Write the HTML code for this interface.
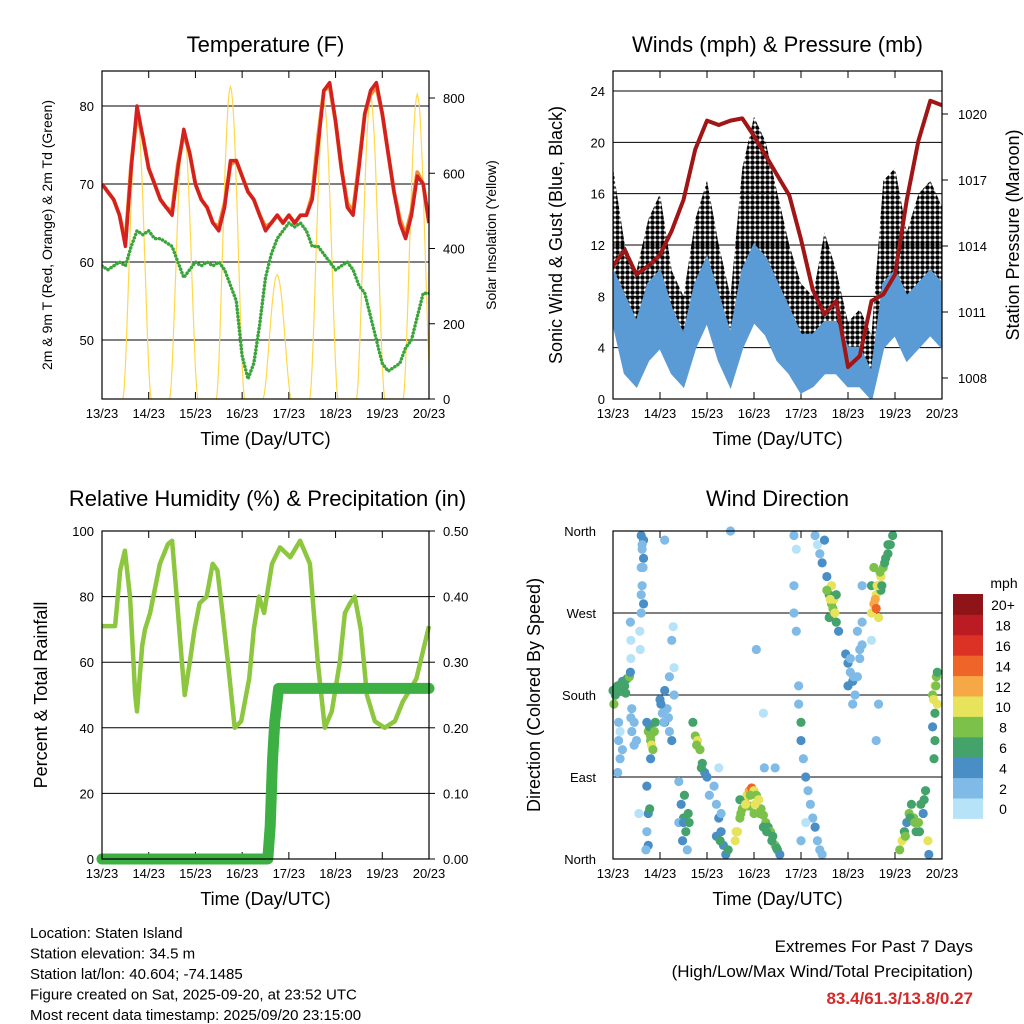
<!DOCTYPE html>
<html><head><meta charset="utf-8"><style>
body{margin:0;background:#fff;}
svg{display:block;font-family:"Liberation Sans",sans-serif;}
</style></head><body>
<svg id="c" width="1024" height="1024" viewBox="0 0 1024 1024">
<defs>
<pattern id="dotpat" width="5" height="5" patternUnits="userSpaceOnUse"><circle cx="2.5" cy="2.5" r="2.3" fill="#000"/></pattern>
</defs>
</svg>
<script>
// ---------- DATA ----------
const xTickLabels=["13/23","14/23","15/23","16/23","17/23","18/23","19/23","20/23"];
// Temperature, 3-hourly (day offset = i/8)
const temp2m=[70,69,68,66,62,72,80,76,72,70,68,67,66,72,77,74,70,68,67,65,64,67,73,73,71,69,68,66,64,65,66,65,66,65,66,66,68,75,82,83,78,72,67,66,72,79,82,83,79,74,69,65,63,66,71,70,65];
const temp9m=[70,69,68,66,62.5,72.5,79,76,72,70,68,67,66.5,72.5,76.5,74,70,68,67,65,64.5,67.5,72.5,73,71,69,68,66,64.5,65,66,65,66,65,66,66,68.5,76,82,82.5,78,72,67.5,66.5,72.5,79,81.5,82.5,79,74,69,65.5,63.5,66.5,71.5,70,65];
const dewPt=[59.5,59,59.5,60,59.5,62,64,63.5,64,63,63,62.5,62,60,58,59,60,59.5,60,59.5,60,59,57,55,48,45,47,52,58,61,63,64,65,64.5,65,64,62,62,61,60,59,59.5,60,59,57,56,53,50,47,46,46.5,47,49,50,53,56,56];
const solarPeak=[760,720,830,330,790,800,810];
const tempTicks=[50,60,70,80];
const solarTicks=[0,200,400,600,800];
// Winds, 6-hourly (day offset = i/4)
const windLo=[6,2,1,3,4,2,1,4,6,3,1,4,6,5,3,2,0.5,1,2,2,1,1,0,4,5,3,4,5,4];
const windHi=[10,8,6,9,10,7,5,9,11,8,5,10,12,11,9,7,5,5,6,6,4,4,2,9,10,8,9,10,9];
const gustHi=[18,12,10,14,16,10,8,14,17,12,8,18,22,20,16,12,9,8,13,10,6,7,5,17,18,13,16,17,15];
const pressure=[1013.1,1013.8,1012.7,1013.1,1013.6,1014.7,1016.1,1018.4,1019.7,1019.5,1019.7,1019.8,1019,1018.1,1017.2,1016.3,1014.3,1012,1010.9,1011.5,1008.5,1009,1011.5,1011.8,1012.7,1016.1,1018.8,1020.6,1020.4];
const windTicks=[0,4,8,12,16,20,24];
const presTicks=[1008,1011,1014,1017,1020];
// Relative humidity
const rhDay=[0,0.28,0.39,0.49,0.60,0.71,0.75,0.86,0.92,1.03,1.24,1.41,1.50,1.60,1.71,1.77,1.88,1.98,2.09,2.24,2.37,2.47,2.58,2.71,2.84,2.98,3.15,3.25,3.36,3.47,3.64,3.81,4.03,4.24,4.45,4.62,4.77,4.92,5.09,5.20,5.31,5.41,5.54,5.67,5.84,6.05,6.27,6.44,6.61,6.73,7.0];
const rhVal=[71,71,88,94,80,50,45,65,70,75,90,96,97,80,60,50,60,70,78,80,90,88,75,58,40,42,55,70,80,75,90,95,92,97,90,60,40,45,60,75,78,80,70,50,42,40,42,48,52,55,71];
const precipDay=[0,3.55,3.6,3.65,3.7,3.78,7.0];
const precipVal=[0,0,0.05,0.15,0.21,0.26,0.26];
const rhTicks=[0,20,40,60,80,100];
const precipTicks=["0.00","0.10","0.20","0.30","0.40","0.50"];
// Wind direction
const dirDay=[0,0.05,0.1,0.15,0.2,0.25,0.3,0.35,0.02,0.12,0.12,0.15,0.1,0.15,0.2,0.4,0.45,0.4,0.5,0.45,0.38,0.6,0.65,0.62,0.65,0.6,0.62,0.6,0.65,0.6,0.57,0.58,0.37,0.38,0.38,0.37,0.75,0.8,0.82,0.78,0.85,0.9,0.72,1.0,1.05,1.1,1.15,1.2,1.25,1.3,1.2,1.1,1.3,1.25,1.28,0.72,0.75,0.72,0.75,0.78,0.7,1.4,1.45,1.5,1.55,1.6,1.48,1.52,1.58,1.4,1.7,1.75,1.8,1.85,1.9,1.95,2.0,2.15,2.2,2.25,2.3,2.35,2.4,2.45,2.3,2.6,2.65,2.7,2.75,2.8,2.85,2.9,2.95,3.0,3.05,3.1,3.15,3.2,3.25,3.3,3.35,3.4,3.45,3.5,3.55,2.7,2.9,3.0,3.2,3.85,3.9,3.85,3.85,3.9,3.95,3.95,4.0,4.0,4.05,4.1,4.15,4.2,4.25,4.3,4.35,4.4,4.45,4.1,4.0,4.3,4.35,4.4,4.45,4.5,4.55,4.6,4.65,4.7,4.75,4.8,4.65,4.7,4.6,4.75,4.95,5.0,5.05,5.1,5.15,5.2,5.25,5.3,5.0,5.1,5.2,5.3,5.5,5.55,5.6,5.65,5.7,5.75,5.8,5.85,5.9,5.95,5.6,5.65,5.7,5.5,5.55,5.85,6.1,6.15,6.2,6.25,6.3,6.35,6.4,6.45,6.5,6.55,6.6,6.65,6.7,6.72,6.8,6.85,6.88,6.9,6.85,6.8,6.85,6.83,6.9,0.55,0.8,1.1,2.5,2.25,3.45,3.05,3.2,3.22,5.5,5.6,5.65,5.3,
 0.07,0.17,0.27,0.62,0.64,0.8,0.88,1.02,1.08,1.18,1.5,1.62,1.78,1.88,2.05,2.2,2.28,2.62,2.72,2.82,2.92,3.02,3.12,3.27,3.38,3.48,4.55,4.62,4.68,4.72,5.05,5.12,5.25,5.58,5.62,5.68,5.72,5.78,6.22,6.32,6.42,6.52,6.62,6.82,6.87];
const dirDeg=[185,180,190,185,195,190,198,200,170,150,130,110,95,140,120,165,150,140,130,125,155,355,350,340,330,320,300,290,280,270,250,230,260,240,220,205,140,130,125,145,120,150,150,175,160,150,165,140,130,180,200,185,210,240,255,80,50,30,15,55,10,85,60,45,30,50,20,70,10,40,150,135,130,120,105,95,90,80,60,45,30,15,5,10,50,20,30,45,55,65,70,75,78,75,70,65,55,48,40,35,30,25,15,10,5,65,58,50,35,355,340,300,270,250,190,170,150,130,110,90,75,60,45,35,20,10,5,40,20,355,345,335,325,350,310,290,280,270,260,250,300,285,265,290,225,215,205,195,180,200,220,235,190,170,250,260,270,280,290,300,310,320,330,335,345,355,275,265,295,300,320,345,10,20,30,40,50,60,45,30,40,60,50,75,20,5,180,190,200,170,160,145,130,110,205,50,110,350,360,100,100,230,160,100,240,130,170,300,
 188,192,182,345,320,135,140,170,150,155,40,40,125,100,70,25,20,30,50,60,70,60,50,30,20,12,295,285,275,270,220,200,230,285,300,315,300,325,25,45,40,30,65,175,190];
const dirSpd=[6,6,6,6,4,6,6,8,8,2,2,2,2,0,2,2,2,2,2,2,2,4,4,2,4,2,2,2,4,2,0,0,2,0,0,4,8,8,10,6,8,6,4,4,2,4,2,2,4,2,2,4,0,2,0,4,4,2,4,6,2,2,4,6,6,6,4,6,2,2,6,8,10,8,6,4,4,2,2,4,4,4,4,6,2,10,10,8,8,12,10,12,14,10,8,10,8,8,8,6,8,6,8,6,4,6,8,8,6,2,0,2,2,2,2,2,6,4,2,4,2,2,2,4,2,2,2,0,2,2,0,2,4,4,4,6,8,8,6,4,10,10,6,6,4,4,2,4,2,2,2,2,4,2,2,2,10,12,10,12,10,8,6,6,6,6,14,10,6,6,8,6,8,10,6,4,8,6,8,6,8,6,4,6,10,4,8,10,8,10,6,4,6,6,6,0,4,2,2,0,2,2,0,2,0,2,2,2,
 6,6,6,2,2,8,8,4,2,2,4,6,8,6,2,4,6,10,8,10,8,10,8,6,6,6,8,10,8,10,2,2,2,12,10,8,6,6,8,6,8,6,6,10,8];
const dirTicks=["North","East","South","West","North"];
const spdColors=["#b6e3f8","#7fbbe6","#4a8ec6","#44a26b","#7cc24a","#e7e35a","#f5a845","#ef6428","#dc3226","#bb1b22","#8f1418"];
const spdLabels=["0","2","4","6","8","10","12","14","16","18","20+"];

// ---------- HELPERS ----------
const NS="http://www.w3.org/2000/svg";
const svg=document.getElementById('c');
function mk(tag,attrs,parent){const e=document.createElementNS(NS,tag);for(const k in attrs)e.setAttribute(k,attrs[k]);(parent||svg).appendChild(e);return e;}
function txt(s,x,y,size,anchor,parent,extra){const t=mk('text',Object.assign({x:x,y:y,'font-size':size,'text-anchor':anchor||'middle',fill:'#000'},extra||{}),parent);t.textContent=s;return t;}
function lin(d0,d1,r0,r1){return v=>r0+(v-d0)/(d1-d0)*(r1-r0);}
function frame(g,L,R,T,B){
  mk('rect',{x:L,y:T,width:R-L,height:B-T,fill:'none',stroke:'#000','stroke-width':1.2},g);
}
function xAxis(g,L,R,T,B){
  const xs=lin(0,7,L,R);
  for(let i=0;i<8;i++){
    const x=xs(i);
    const tk=mk('line',{x1:x,y1:B,x2:x,y2:B-7,stroke:'#000'},g);
    
    
    mk('line',{x1:x,y1:T,x2:x,y2:T+7,stroke:'#000'},g);
    const t=txt(xTickLabels[i],x,B+19,13,'middle',g);
    
    
  }
  const tt=txt("Time (Day/UTC)",(L+R)/2,B+46,18,'middle',g);
  
  
  return xs;
}
function group(name){const g=mk('g',{});return g;}
function path(pts){return pts.map((p,i)=>(i?'L':'M')+p[0].toFixed(1)+' '+p[1].toFixed(1)).join(' ');}

// ---------- PANEL 1: TEMPERATURE ----------
(function(){
  const g=group('temperature-panel');
  const L=102,R=429,T=71,B=399;
  const xs=xAxis(g,L,R,T,B);
  const ys=lin(50,80,340,106);
  const ss=lin(0,800,399,98);
  tempTicks.forEach(v=>{
    mk('line',{x1:L,y1:ys(v),x2:R,y2:ys(v),stroke:'#000','stroke-width':1},g);
    const t=txt(String(v),L-8,ys(v)+5,13,'end',g);
    
    
  });
  solarTicks.forEach(v=>{
    mk('line',{x1:R,y1:ss(v),x2:R+6,y2:ss(v),stroke:'#000'},g);
    const t=txt(String(v),R+14,ss(v)+5,13,'start',g);
    
    
  });
  const clip=mk('clipPath',{id:'cp1'},g);mk('rect',{x:L,y:T,width:R-L,height:B-T},clip);
  const pg=mk('g',{'clip-path':'url(#cp1)'},g);
  let sp=[];
  for(let dIdx=0;dIdx<solarPeak.length;dIdx++){
    for(let k=0;k<=24;k++){
      const f=k/24, d=dIdx+0.45+f*0.6;
      const v=solarPeak[dIdx]*Math.pow(Math.sin(Math.PI*f),1.6);
      sp.push([xs(d),ss(v)]);
    }
  }
  const sol=mk('path',{d:path(sp),fill:'none',stroke:'#ffd84a','stroke-width':1.2},pg);
  
  const dp=mk('path',{d:path(dewPt.map((v,i)=>[xs(i/8),ys(v)])),fill:'none',stroke:'#3aa53a','stroke-width':3.5,'stroke-dasharray':'0.1 3.5','stroke-linecap':'round','stroke-linejoin':'round'},pg);
  
  const o=mk('path',{d:path(temp9m.map((v,i)=>[xs(i/8),ys(v)])),fill:'none',stroke:'#f28c28','stroke-width':4,'stroke-linejoin':'round'},pg);
  
  const r=mk('path',{d:path(temp2m.map((v,i)=>[xs(i/8),ys(v)])),fill:'none',stroke:'#d42020','stroke-width':3.5,'stroke-linejoin':'round'},pg);
  
  frame(g,L,R,T,B);
  const t1=txt("Temperature (F)",(L+R)/2,52,22,'middle',g);
  const a=txt("2m & 9m T (Red, Orange) & 2m Td (Green)",0,0,14,'middle',g,{transform:'translate(52,235) rotate(-90)'});
  const b=txt("Solar Insolation (Yellow)",0,0,14,'middle',g,{transform:'translate(496,235) rotate(-90)'});
})();

// ---------- PANEL 2: WINDS ----------
(function(){
  const g=group('winds-panel');
  const L=613,R=942,T=71,B=399;
  const xs=xAxis(g,L,R,T,B);
  const ys=lin(0,24,399,91);
  const ps=lin(1008,1020,378,114);
  windTicks.forEach(v=>{
    if(v>0)mk('line',{x1:L,y1:ys(v),x2:R,y2:ys(v),stroke:'#000','stroke-width':1},g);
    const t=txt(String(v),L-8,ys(v)+5,13,'end',g);
    
  });
  presTicks.forEach(v=>{
    mk('line',{x1:R,y1:ps(v),x2:R+6,y2:ps(v),stroke:'#000'},g);
    const t=txt(String(v),R+16,ps(v)+5,13,'start',g);
    
  });
  const clip=mk('clipPath',{id:'cp2'},g);mk('rect',{x:L,y:T,width:R-L,height:B-T},clip);
  const pg=mk('g',{'clip-path':'url(#cp2)'},g);
  const top=gustHi.map((v,i)=>[xs(i/4),ys(v)]);
  const mid=windHi.map((v,i)=>[xs(i/4),ys(v)]);
  const bot=windLo.map((v,i)=>[xs(i/4),ys(v)]).reverse();
  const gb=mk('path',{d:path(top.concat(mid.slice().reverse()))+'Z',fill:'url(#dotpat)',stroke:'none'},pg);
  
  const wb=mk('path',{d:path(mid.concat(bot))+'Z',fill:'#5b9bd5',stroke:'#5b9bd5','stroke-width':2},pg);
  
  const pl=mk('path',{d:path(pressure.map((v,i)=>[xs(i/4),ps(v)])),fill:'none',stroke:'#a01515','stroke-width':4,'stroke-linejoin':'round'},pg);
  
  frame(g,L,R,T,B);
  const t1=txt("Winds (mph) & Pressure (mb)",(L+R)/2,52,22,'middle',g);
  const a=txt("Sonic Wind & Gust (Blue, Black)",0,0,18,'middle',g,{transform:'translate(562,235) rotate(-90)'});
  const b=txt("Station Pressure (Maroon)",0,0,18,'middle',g,{transform:'translate(1019,235) rotate(-90)'});
})();

// ---------- PANEL 3: RH & PRECIP ----------
(function(){
  const g=group('humidity-panel');
  const L=102,R=429,T=531,B=859;
  const xs=xAxis(g,L,R,T,B);
  const ys=lin(0,100,859,531);
  const ps=lin(0,0.5,859,531);
  rhTicks.forEach(v=>{
    if(v>0&&v<100)mk('line',{x1:L,y1:ys(v),x2:R,y2:ys(v),stroke:'#000','stroke-width':1},g);
    const t=txt(String(v),L-8,ys(v)+5,13,'end',g);
    
  });
  precipTicks.forEach((s,i)=>{
    const y=ys(i*20);
    mk('line',{x1:R,y1:y,x2:R+6,y2:y,stroke:'#000'},g);
    const t=txt(s,R+14,y+5,13,'start',g);
    
  });
  const clip=mk('clipPath',{id:'cp3'},g);mk('rect',{x:L-6,y:T,width:R-L+12,height:B-T+6},clip);
  const pg=mk('g',{'clip-path':'url(#cp3)'},g);
  const rh=mk('path',{d:path(rhVal.map((v,i)=>[xs(rhDay[i]),ys(v)])),fill:'none',stroke:'#8dc63f','stroke-width':4.5,'stroke-linejoin':'round'},pg);
  
  const pr=mk('path',{d:path(precipVal.map((v,i)=>[xs(precipDay[i]),ps(v)])),fill:'none',stroke:'#3cb043','stroke-width':11,'stroke-linecap':'round','stroke-linejoin':'round'},pg);
  
  frame(g,L,R,T,B);
  const t1=txt("Relative Humidity (%) & Precipitation (in)",(L+R)/2+2,506,22,'middle',g);
  const a=txt("Percent & Total Rainfall",0,0,18,'middle',g,{transform:'translate(47,695) rotate(-90)'});
})();

// ---------- PANEL 4: WIND DIRECTION ----------
(function(){
  const g=group('wind-direction-panel');
  const L=613,R=942,T=531,B=859;
  const xs=xAxis(g,L,R,T,B);
  const ys=lin(0,360,859,531);
  dirTicks.forEach((s,i)=>{
    const y=ys(i*90);
    mk('line',{x1:L,y1:y,x2:R,y2:y,stroke:'#000','stroke-width':1},g);
    const t=txt(s,L-17,y+5,13,'end',g);
    
  });
  const pg=mk('g',{},g);
  for(let i=0;i<dirDay.length;i++){
    const ci=Math.min(10,Math.max(0,Math.round(dirSpd[i]/2)));
    const c=mk('circle',{cx:xs(dirDay[i]),cy:ys(dirDeg[i]),r:4.6,fill:spdColors[ci]},pg);
    
    
  }
  frame(g,L,R,T,B);
  const t1=txt("Wind Direction",(L+R)/2,506,22,'middle',g);
  const a=txt("Direction (Colored By Speed)",0,0,18,'middle',g,{transform:'translate(540,695) rotate(-90)'});
  const cb=group('speed-colorbar');
  const bh=20.4, bt=594;
  for(let i=0;i<11;i++){
    const y=bt+(10-i)*bh;
    const r=mk('rect',{x:953,y:y,width:30,height:bh+0.5,fill:spdColors[i]},cb);
    
    const t=txt(spdLabels[i],1003,y+bh/2+6,14,'middle',cb);
    
  }
  const u=txt("mph",1004,588,14,'middle',cb);
})();

// ---------- FOOTER ----------
(function(){
  const g=group('station-info');
  const lines=["Location: Staten Island","Station elevation: 34.5 m","Station lat/lon: 40.604; -74.1485","Figure created on Sat, 2025-09-20, at 23:52 UTC","Most recent data timestamp: 2025/09/20 23:15:00"];
  lines.forEach((s,i)=>{const t=txt(s,30,938+i*20.5,15,'start',g);});
  const e=group('extremes-summary');
  let t=txt("Extremes For Past 7 Days",973,952,17,'end',e);
  t=txt("(High/Low/Max Wind/Total Precipitation)",973,977,17,'end',e);
  t=txt("83.4/61.3/13.8/0.27",973,1004,17,'end',e,{fill:'#d42a2a','font-weight':'bold'});
})();
</script>
</body></html>
